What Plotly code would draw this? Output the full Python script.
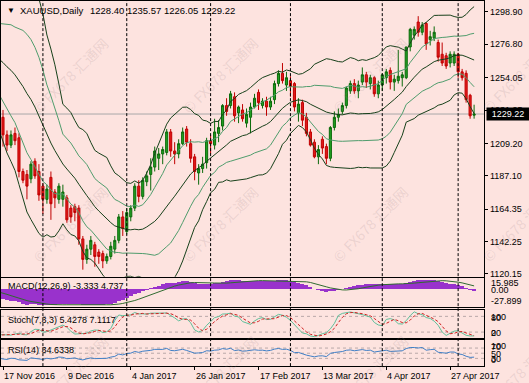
import numpy as np
import pandas as pd
import plotly.graph_objects as go

# ---------------- data: warm-up bars (before the visible window) ----------------
pre_dates = ["2016-09-01","2016-09-02","2016-09-05","2016-09-06","2016-09-07","2016-09-08","2016-09-09",
             "2016-09-12","2016-09-13","2016-09-14","2016-09-15","2016-09-16",
             "2016-09-19","2016-09-20","2016-09-21","2016-09-22","2016-09-23",
             "2016-09-26","2016-09-27","2016-09-28","2016-09-29","2016-09-30",
             "2016-10-03","2016-10-04","2016-10-05","2016-10-06","2016-10-07",
             "2016-10-10","2016-10-11","2016-10-12","2016-10-13","2016-10-14",
             "2016-10-17","2016-10-18","2016-10-19","2016-10-20","2016-10-21",
             "2016-10-24","2016-10-25","2016-10-26","2016-10-27","2016-10-28","2016-10-31",
             "2016-11-01","2016-11-02","2016-11-03","2016-11-04",
             "2016-11-07","2016-11-08","2016-11-09","2016-11-10","2016-11-11",
             "2016-11-14","2016-11-15","2016-11-16"]
pre_open = [1309,1311,1326,1327,1350,1348,1335,1328,1327,1323,1322,1311,1310,1314,1314,1336,1337,1337,1339,1327,1321,1322,
            1315,1312,1268,1266,1253,1257,1259,1253,1254,1257,1251,1259,1262,1269,1265,1266,1263,1273,1267,1266,1276,
            1277,1289,1297,1302,1294,1280,1275,1273,1266,1225,1221,1226]
pre_high = [1316,1330,1331,1352,1352,1350,1339,1331,1329,1327,1324,1314,1318,1318,1338,1343,1341,1343,1341,1330,1327,1325,
            1318,1314,1275,1269,1266,1266,1262,1260,1262,1264,1262,1265,1272,1274,1270,1268,1276,1277,1271,1284,1280,
            1292,1306,1307,1309,1295,1290,1338,1285,1268,1232,1231,1233]
pre_low = [1302,1306,1322,1320,1340,1332,1323,1318,1321,1318,1308,1306,1308,1310,1312,1332,1334,1334,1325,1317,1315,1312,
           1310,1266,1263,1250,1241,1254,1250,1248,1252,1250,1250,1255,1260,1260,1261,1261,1262,1264,1262,1263,1271,
           1276,1286,1293,1298,1278,1272,1264,1257,1220,1211,1220,1222]
pre_close = [1311,1326,1327,1350,1348,1335,1328,1327,1323,1322,1311,1310,1314,1314,1336,1337,1337,1339,1327,1321,1322,1315,
             1312,1268,1266,1253,1257,1259,1253,1254,1257,1251,1259,1262,1269,1265,1266,1263,1273,1267,1266,1276,1277,
             1289,1297,1302,1304,1280,1275,1273,1266,1225,1221,1226,1226]

# ---------------- data: visible bars ----------------
vis_dates = ["2016-11-17","2016-11-18","2016-11-21","2016-11-22","2016-11-23","2016-11-24","2016-11-25",
             "2016-11-28","2016-11-29","2016-11-30","2016-12-01","2016-12-02",
             "2016-12-05","2016-12-06","2016-12-07","2016-12-08","2016-12-09",
             "2016-12-12","2016-12-13","2016-12-14","2016-12-15","2016-12-16",
             "2016-12-19","2016-12-20","2016-12-21","2016-12-22","2016-12-23",
             "2016-12-27","2016-12-28","2016-12-29","2016-12-30",
             "2017-01-03","2017-01-04","2017-01-05","2017-01-06",
             "2017-01-09","2017-01-10","2017-01-11","2017-01-12","2017-01-13",
             "2017-01-16","2017-01-17","2017-01-18","2017-01-19","2017-01-20",
             "2017-01-23","2017-01-24","2017-01-25","2017-01-26","2017-01-27",
             "2017-01-30","2017-01-31","2017-02-01","2017-02-02","2017-02-03",
             "2017-02-06","2017-02-07","2017-02-08","2017-02-09","2017-02-10",
             "2017-02-13","2017-02-14","2017-02-15","2017-02-16","2017-02-17",
             "2017-02-20","2017-02-21","2017-02-22","2017-02-23","2017-02-24",
             "2017-02-27","2017-02-28","2017-03-01","2017-03-02","2017-03-03",
             "2017-03-06","2017-03-07","2017-03-08","2017-03-09","2017-03-10",
             "2017-03-13","2017-03-14","2017-03-15","2017-03-16","2017-03-17",
             "2017-03-20","2017-03-21","2017-03-22","2017-03-23","2017-03-24",
             "2017-03-27","2017-03-28","2017-03-29","2017-03-30","2017-03-31",
             "2017-04-03","2017-04-04","2017-04-05","2017-04-06","2017-04-07",
             "2017-04-10","2017-04-11","2017-04-12","2017-04-13",
             "2017-04-17","2017-04-18","2017-04-19","2017-04-20","2017-04-21",
             "2017-04-24","2017-04-25","2017-04-26","2017-04-27","2017-04-28",
             "2017-05-01","2017-05-02","2017-05-03","2017-05-04","2017-05-05"]
vis_open = [1227,1215,1208,1216,1213,1190,1188,1185,1197,1190,1180,1171,1186,1176,1171,1171,1172,1165,1166,1165,
            1144,1130,1137,1140,1135,1134,1129,1132,1137,1143,1159,1149,1159,1165,1180,1173,1183,1188,1193,1199,
            1202,1203,1217,1204,1202,1209,1219,1209,1200,1189,1192,1196,1211,1208,1216,1221,1235,1235,1241,1230,
            1232,1223,1227,1234,1244,1235,1238,1234,1239,1250,1257,1249,1252,1250,1230,1237,1227,1217,1210,1200,
            1212,1207,1199,1220,1227,1231,1235,1245,1250,1245,1251,1256,1250,1254,1243,1249,1254,1259,1251,1252,
            1254,1254,1275,1283,1292,1285,1291,1280,1281,1278,1270,1269,1264,1264,1270,1258,1257,1242,1228.40]
vis_high = [1232,1218,1218,1220,1216,1192,1191,1197,1199,1195,1182,1181,1190,1178,1182,1181,1174,1167,1168,1167,
            1146,1140,1146,1142,1137,1136,1134,1142,1146,1161,1163,1165,1167,1182,1184,1186,1190,1199,1207,1206,
            1207,1219,1219,1210,1212,1220,1221,1212,1202,1195,1200,1213,1215,1226,1225,1236,1240,1245,1244,1235,
            1236,1233,1237,1243,1246,1240,1241,1241,1252,1259,1264,1258,1255,1251,1240,1239,1230,1219,1212,1208,
            1214,1209,1221,1231,1233,1237,1248,1252,1253,1252,1261,1258,1256,1255,1252,1257,1260,1261,1256,1273,
            1258,1275,1288,1289,1296,1292,1292,1286,1289,1280,1278,1271,1272,1272,1271,1260,1259,1243,1235.57]
vis_low = [1207,1204,1206,1208,1186,1182,1171,1182,1185,1170,1161,1168,1157,1165,1168,1166,1155,1155,1156,1140,
           1123,1127,1133,1125,1127,1124,1127,1130,1134,1141,1146,1147,1156,1163,1169,1171,1180,1177,1190,1191,
           1195,1201,1200,1195,1199,1208,1207,1196,1184,1181,1189,1192,1202,1205,1210,1218,1228,1233,1224,1223,
           1224,1220,1216,1233,1232,1233,1228,1232,1236,1248,1250,1245,1241,1231,1224,1221,1214,1207,1199,1195,
           1202,1195,1197,1218,1224,1229,1233,1243,1243,1240,1249,1247,1246,1241,1240,1245,1250,1246,1245,1250,
           1248,1253,1272,1280,1282,1283,1273,1276,1279,1265,1262,1260,1261,1262,1254,1252,1237,1226,1226.05]
vis_close = [1215,1208,1215,1211,1190,1184,1180,1195,1187,1174,1171,1178,1168,1172,1180,1176,1157,1159,1162,1144,
             1130,1137,1143,1132,1132,1129,1132,1139,1143,1159,1151,1162,1165,1180,1173,1184,1187,1193,1204,1202,
             1205,1217,1204,1202,1209,1217,1210,1199,1190,1192,1195,1211,1209,1217,1220,1235,1231,1243,1228,1234,
             1226,1229,1234,1240,1237,1238,1234,1238,1250,1257,1252,1254,1248,1234,1236,1225,1216,1208,1200,1205,
             1206,1199,1220,1227,1229,1235,1247,1250,1245,1249,1256,1251,1254,1243,1249,1256,1258,1251,1253,1255,
             1256,1275,1287,1287,1285,1290,1277,1282,1285,1268,1264,1262,1270,1270,1258,1254,1239,1228,1229.22]

price_ticks = [1298.90, 1276.80, 1254.05, 1231.95, 1209.20, 1187.10, 1164.35, 1142.25, 1120.15]
date_labels = ["2016-11-17","2016-12-09","2017-01-04","2017-01-26","2017-02-17","2017-03-13","2017-04-04","2017-04-27"]
date_texts = ["17 Nov 2016","9 Dec 2016","4 Jan 2017","26 Jan 2017","17 Feb 2017","13 Mar 2017","4 Apr 2017","27 Apr 2017"]
month_starts = ["2016-12-01","2017-01-03","2017-02-01","2017-03-01","2017-04-03","2017-05-01"]
last_price = 1229.22
header_symbol = "XAUUSD,Daily"
header_values = "1228.40 1235.57 1226.05 1229.22"
macd_label = "MACD(12,26,9) -3.333 4.737"
stoch_label = "Stoch(7,3,3) 5.4278 7.1117"
rsi_label = "RSI(14) 34.6338"
watermark = "© FX678 汇通网"

# ---------------- indicators ----------------
dates = pre_dates + vis_dates
o = np.array(pre_open + vis_open, float)
h = np.array(pre_high + vis_high, float)
l = np.array(pre_low + vis_low, float)
c = np.array(pre_close + vis_close, float)
n = len(c)
n_pre = len(pre_dates)
cs = pd.Series(c)

sma = cs.rolling(20).mean()
sd = cs.rolling(20).std(ddof=0)

def ema(x, p):
    a = 2.0 / (p + 1)
    out = np.empty_like(x)
    out[0] = x[0]
    for i in range(1, len(x)):
        out[i] = a * x[i] + (1 - a) * out[i - 1]
    return out

macd = ema(c, 12) - ema(c, 26)
signal = pd.Series(macd).rolling(9).mean()

hh = pd.Series(h).rolling(7).max()
ll = pd.Series(l).rolling(7).min()
k = 100 * (cs - ll).rolling(3).sum() / (hh - ll).rolling(3).sum()
d = k.rolling(3).mean()

delta = np.diff(c, prepend=c[0])
gain = np.where(delta > 0, delta, 0.0)
loss = np.where(delta < 0, -delta, 0.0)
ag = np.full(n, np.nan)
al = np.full(n, np.nan)
ag[14] = gain[1:15].mean()
al[14] = loss[1:15].mean()
for i in range(15, n):
    ag[i] = (ag[i - 1] * 13 + gain[i]) / 14
    al[i] = (al[i - 1] * 13 + loss[i]) / 14
rsi = 100 - 100 / (1 + ag / al)

# ---------------- geometry helpers ----------------
W, H = 529, 383
def pxx(p):
    return p / W
def pxy(p):
    return 1 - p / H

XR = pxx(484)
FONT = "Liberation Sans, Arial, sans-serif"
BG = "#FDE3DF"
DARK = "#17401a"
LIGHT = "#4f9c6c"

fig = go.Figure()

# Bollinger bands (20, ±1, ±2)
for arr, col in [(sma + 2 * sd, DARK), (sma + sd, LIGHT), (sma, DARK), (sma - sd, LIGHT), (sma - 2 * sd, DARK)]:
    fig.add_trace(go.Scatter(x=dates, y=arr, mode="lines", line=dict(color=col, width=1),
                             xaxis="x", yaxis="y", hoverinfo="skip"))

fig.add_trace(go.Candlestick(x=dates, open=o, high=h, low=l, close=c, xaxis="x", yaxis="y",
                             increasing=dict(line=dict(color="#0b6a0b", width=1), fillcolor="#22a022"),
                             decreasing=dict(line=dict(color="#c00000", width=1), fillcolor="#e21a1a"),
                             whiskerwidth=0))

# MACD
fig.add_trace(go.Bar(x=dates, y=macd, marker=dict(color="#9932CC", line=dict(width=0)),
                     width=1.0, xaxis="x2", yaxis="y2"))
fig.add_trace(go.Scatter(x=dates, y=signal, mode="lines", line=dict(color="#2f6b2f", width=1),
                         xaxis="x2", yaxis="y2"))

# Stochastic
fig.add_trace(go.Scatter(x=dates, y=k, mode="lines", line=dict(color="#5fbf9a", width=1),
                         xaxis="x3", yaxis="y3"))
fig.add_trace(go.Scatter(x=dates, y=d, mode="lines", line=dict(color="#d02020", width=1, dash="3px,2px"),
                         xaxis="x3", yaxis="y3"))

# RSI
fig.add_trace(go.Scatter(x=dates, y=rsi, mode="lines", line=dict(color="#3f7fc6", width=1),
                         xaxis="x4", yaxis="y4"))

xr = [n_pre - 0.5, n_pre + 120.5]
axis_common = dict(type="category", range=xr, showline=True, mirror=True, linecolor="black",
                   linewidth=1, showgrid=False, zeroline=False, fixedrange=True)

layout = dict(
    width=W, height=H, margin=dict(l=0, r=0, t=0, b=0),
    paper_bgcolor=BG, plot_bgcolor=BG, showlegend=False, bargap=0, boxgap=0.25,
    font=dict(family=FONT, size=9, color="black"), hovermode=False,
)
layout["xaxis"] = dict(axis_common, domain=[0, XR], anchor="y", showticklabels=False,
                       rangeslider=dict(visible=False))
layout["xaxis2"] = dict(axis_common, domain=[0, XR], anchor="y2", matches="x", showticklabels=False)
layout["xaxis3"] = dict(axis_common, domain=[0, XR], anchor="y3", matches="x", showticklabels=False)
layout["xaxis4"] = dict(axis_common, domain=[0, XR], anchor="y4", matches="x", showticklabels=False,
                        ticks="outside", ticklen=3, tickcolor="black",
                        tickvals=[dates.index(dl) for dl in date_labels], ticktext=[""] * len(date_labels))

k_px = 264 / (1298.90 - 1120.15)
layout["yaxis"] = dict(domain=[pxy(278), pxy(0)], anchor="x", side="right",
                       range=[1120.15 - 3 / k_px, 1298.90 + 11 / k_px],
                       tickvals=price_ticks, ticktext=["%.2f" % v for v in price_ticks],
                       ticks="outside", ticklen=3, tickcolor="black",
                       showline=True, mirror=True, linecolor="black", showgrid=False, zeroline=False,
                       tickfont=dict(family=FONT, size=9, color="black"), fixedrange=True)
layout["yaxis2"] = dict(domain=[pxy(308.5), pxy(279.5)], anchor="x2", side="right",
                        range=[-27.899, 15.985], showticklabels=False, ticks="", fixedrange=True,
                        showline=True, mirror=True, linecolor="black", showgrid=False, zeroline=False)
layout["yaxis3"] = dict(domain=[pxy(339.5), pxy(311)], anchor="x3", side="right",
                        range=[-2, 106], showticklabels=False, ticks="", fixedrange=True,
                        showline=True, mirror=True, linecolor="black", showgrid=False, zeroline=False)
layout["yaxis4"] = dict(domain=[pxy(368), pxy(342)], anchor="x4", side="right",
                        range=[0, 100], showticklabels=False, ticks="", fixedrange=True,
                        showline=True, mirror=True, linecolor="black", showgrid=False, zeroline=False)
fig.update_layout(**layout)

shapes = []
# current price line
shapes.append(dict(type="line", xref="paper", x0=0, x1=XR, yref="y", y0=last_price, y1=last_price,
                   line=dict(color="#a9a9a9", width=1), layer="below"))
# indicator levels
for yr, v in [("y3", 80), ("y3", 20), ("y4", 70), ("y4", 50), ("y4", 30)]:
    shapes.append(dict(type="line", xref="paper", x0=0, x1=XR, yref=yr, y0=v, y1=v,
                       line=dict(color="#b9a8a8", width=1, dash="3px,3px"), layer="below"))
# month separators
for ms in month_starts:
    xi = dates.index(ms)
    shapes.append(dict(type="line", xref="x", x0=xi, x1=xi, yref="paper", y0=pxy(368), y1=pxy(0),
                       line=dict(color="black", width=1, dash="3px,2px")))
fig.update_layout(shapes=shapes)

ann = []
def text(x, y, s, size=9, color="black", anchor="left", **kw):
    ann.append(dict(xref="paper", yref="paper", x=pxx(x), y=pxy(y), text=s, showarrow=False,
                    xanchor=anchor, yanchor="middle", font=dict(family=FONT, size=size, color=color), **kw))

# watermarks
for cy in (75, 225, 375):
    for cx in (70, 220, 370, 520):
        ann.append(dict(xref="paper", yref="paper", x=pxx(cx), y=pxy(cy), text=watermark, showarrow=False,
                        xanchor="center", yanchor="middle", textangle=-45,
                        font=dict(family="Noto Sans CJK SC, sans-serif", size=14, color="rgba(150,130,130,0.18)")))

text(4, 10, "▼", size=8)
text(17, 10, header_symbol, size=9.5)
text(87, 10, header_values, size=9.5)
text(5, 287, macd_label)
text(5, 321.5, stoch_label)
text(5, 351.5, rsi_label)

# right-side indicator labels
for s, y in [("15.985", 284.7), ("0.00", 290.8), ("-27.899", 302.5),
             ("100", 318.5), ("80", 319.5), ("20", 334.5), ("0", 334.5),
             ("100", 347.5), ("70", 349), ("50", 355.3), ("30", 361), ("0", 362)]:
    text(489, y, s)

# current price box
ann.append(dict(xref="paper", yref="y", x=pxx(485.5), y=last_price, text="1229.22", showarrow=False,
                xanchor="left", yanchor="middle", bgcolor="black", width=40, height=10, align="center",
                font=dict(family=FONT, size=9, color="white")))

# date labels
for dl, dt in zip(date_labels, date_texts):
    ann.append(dict(xref="x4", yref="paper", x=dates.index(dl), y=pxy(377.5), text=dt, showarrow=False,
                    xanchor="left", yanchor="middle", xshift=-1, font=dict(family=FONT, size=9, color="black")))

fig.update_layout(annotations=ann)
fig.write_html("out.html", config={"displayModeBar": False, "staticPlot": True},
               post_script="document.body.style.margin='0px';document.body.style.background='%s';" % BG)
